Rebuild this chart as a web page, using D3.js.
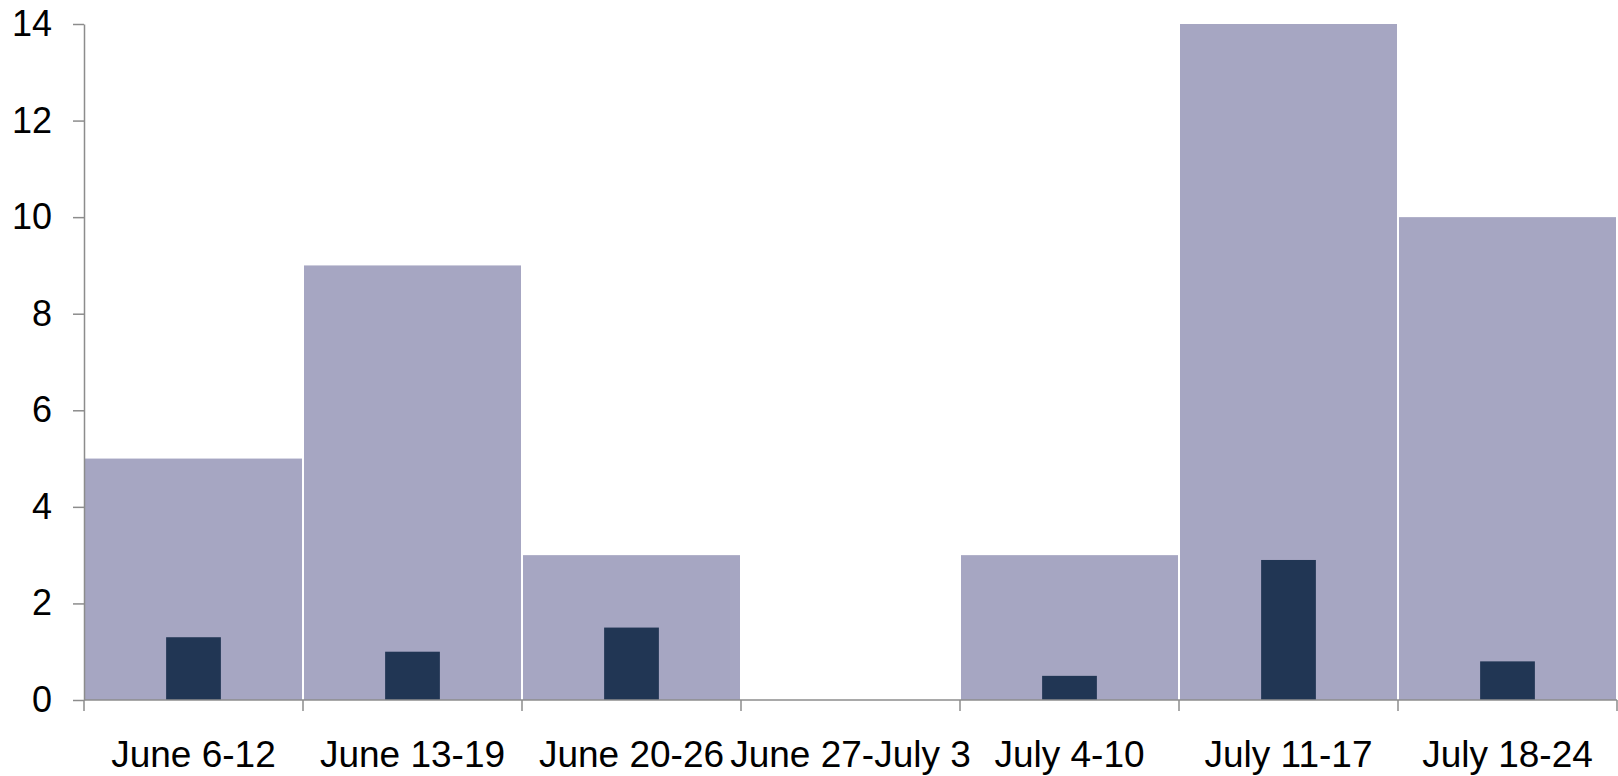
<!DOCTYPE html>
<html>
<head>
<meta charset="utf-8">
<script src="https://d3js.org/d3.v7.min.js"></script>
<style>
  body { margin: 0; background: #fff; }
  text { font-family: "Liberation Sans", Arial, sans-serif; }
</style>
</head>
<body>
<div id="chart"></div>
<script>
// data
var weeks = ["June 6-12", "June 13-19", "June 20-26", "June 27-July 3", "July 4-10", "July 11-17", "July 18-24"];
var totals = [5, 9, 3, 0, 3, 14, 10];
var subset = [1.3, 1.0, 1.5, 0, 0.5, 2.9, 0.8];
var yTicks = [0, 2, 4, 6, 8, 10, 12, 14];

var margin = {top: 24, right: 1, bottom: 76, left: 84},
    width = 1618 - margin.left - margin.right,
    height = 776 - margin.top - margin.bottom;

var svg = d3.select("#chart")
  .append("svg")
  .attr("width", 1618)
  .attr("height", 776)
  .append("g")
  .attr("transform", "translate(" + margin.left + "," + margin.top + ")");

var x = d3.scaleBand()
  .domain(weeks)
  .range([0, width])
  .padding(0);

var y = d3.scaleLinear()
  .domain([0, 14])
  .range([height, 0]);

// wide background bars
svg.append("g")
  .selectAll("rect")
  .data(weeks)
  .enter()
  .append("rect")
    .attr("x", function(d) { return x(d) + 1; })
    .attr("y", function(d, i) { return y(totals[i]); })
    .attr("width", x.bandwidth() - 2)
    .attr("height", function(d, i) { return height - y(totals[i]); })
    .style("fill", "#a6a6c2");

// narrow dark bars
var inner = x.bandwidth() * 0.25;
svg.append("g")
  .selectAll("rect")
  .data(weeks)
  .enter()
  .append("rect")
    .attr("x", function(d) { return x(d) + (x.bandwidth() - inner) / 2; })
    .attr("y", function(d, i) { return y(subset[i]); })
    .attr("width", inner)
    .attr("height", function(d, i) { return height - y(subset[i]); })
    .style("fill", "#213654");

// y axis
var yAxis = svg.append("g")
  .call(d3.axisLeft(y).tickValues(yTicks).tickSize(11).tickPadding(21).tickSizeOuter(0));
yAxis.select(".domain").attr("stroke", "#8c8c8c").attr("stroke-width", 1.5);
yAxis.selectAll(".tick line").attr("stroke", "#8c8c8c").attr("stroke-width", 1.5);
yAxis.selectAll("text")
  .style("font-size", "36px")
  .style("fill", "#000")
  .attr("font-family", null);

// x axis with ticks on category boundaries
var xAxis = svg.append("g")
  .attr("transform", "translate(0," + height + ")");
xAxis.append("line")
  .attr("x1", 0).attr("x2", width)
  .attr("stroke", "#8c8c8c").attr("stroke-width", 1.5);
var bounds = weeks.map(function(d) { return x(d); }).concat([width]);
xAxis.selectAll(".bound")
  .data(bounds)
  .enter()
  .append("line")
    .attr("x1", function(d) { return d; })
    .attr("x2", function(d) { return d; })
    .attr("y1", 0).attr("y2", 11)
    .attr("stroke", "#8c8c8c").attr("stroke-width", 1.5);
xAxis.selectAll(".lbl")
  .data(weeks)
  .enter()
  .append("text")
    .attr("x", function(d) { return x(d) + x.bandwidth() / 2; })
    .attr("y", 67)
    .style("text-anchor", "middle")
    .style("font-size", "37px")
    .style("fill", "#000")
    .text(function(d) { return d; });
</script>
</body>
</html>
